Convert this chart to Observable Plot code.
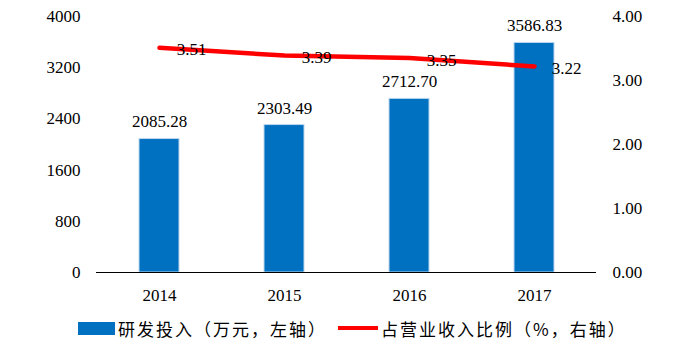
<!DOCTYPE html>
<html><head><meta charset="utf-8">
<script src="https://cdn.jsdelivr.net/npm/d3@7"></script>
<script src="https://cdn.jsdelivr.net/npm/@observablehq/plot@0.6"></script>
<style>
body{margin:0;background:#fff;font-family:"Liberation Serif","Noto Sans CJK SC",serif;}
#chart svg text{font-family:"Liberation Serif",serif;font-size:17px;fill:#000;}
#legend{position:relative;height:44px;font-family:"Noto Sans CJK SC",sans-serif;font-size:17px;color:#000;}
.item{position:absolute;top:8px;display:flex;align-items:center;height:20px;white-space:nowrap;letter-spacing:2px;}
</style></head>
<body>
<div id="chart"></div>
<div id="legend"></div>
<script>
const years = ["2014","2015","2016","2017"];
const rdSpend = [2085.28, 2303.49, 2712.70, 3586.83];
const ratio = [3.51, 3.39, 3.35, 3.22];
const leftTicks = [0, 800, 1600, 2400, 3200, 4000];
const rightTickLabels = ["0.00","1.00","2.00","3.00","4.00"];
const seriesNames = ["研发投入（万元，左轴）","占营业收入比例（%，右轴）"];

const barColor = "#0070C0";
const lineColor = "#FF0000";
const k = 1000; // right axis factor into left scale

const bars = years.map((y,i)=>({year:y, v:rdSpend[i]}));
const pts = years.map((y,i)=>({year:y, r:ratio[i], v:ratio[i]*k}));
const rightTicks = rightTickLabels.map(s=>+s*k);

const plot = Plot.plot({
  width: 674, height: 310,
  marginLeft: 96, marginRight: 78, marginTop: 16, marginBottom: 38,
  style: {fontFamily: "Liberation Serif", fontSize: "17px", color: "#000", background: "#fff"},
  x: {domain: years, paddingInner: 0.68, paddingOuter: 0.34, label: null},
  y: {domain: [0, 4000], label: null},
  marks: [
    Plot.axisX({tickSize: 0, tickPadding: 16, fontSize: 17, label: null}),
    Plot.axisY({ticks: leftTicks, tickFormat: d => String(d), tickSize: 0, tickPadding: 16, fontSize: 17, label: null, anchor: "left"}),
    Plot.axisY({ticks: rightTicks, tickFormat: d => (d/k).toFixed(2), tickSize: 0, tickPadding: 16, fontSize: 17, label: null, anchor: "right", textAnchor: "start"}),
    Plot.barY(bars, {x: "year", y: "v", fill: barColor, stroke: "#BDD7EE", strokeWidth: 1}),
    Plot.ruleY([0], {stroke: "#000", strokeWidth: 1.2}),
    Plot.text(bars, {x: "year", y: "v", text: d => d.v.toFixed(2), dy: -17, fontSize: 17, fill: "#000"}),
    Plot.line(pts, {x: "year", y: "v", stroke: lineColor, strokeWidth: 4.5, strokeLinecap: "round"}),
    Plot.text(pts, {x: "year", y: "v", text: d => d.r.toFixed(2), dx: 32, dy: 2, fontSize: 17, fill: "#000"})
  ]
});
document.getElementById("chart").appendChild(plot);

const lg = document.getElementById("legend");
lg.innerHTML = `
<div class="item" style="left:78px"><span style="display:inline-block;width:37px;height:13px;background:${barColor};margin-right:3px"></span>${seriesNames[0]}</div>
<div class="item" style="left:338px"><span style="display:inline-block;width:40px;height:4px;background:${lineColor};margin-right:3px"></span>${seriesNames[1]}</div>`;
</script>
</body></html>
